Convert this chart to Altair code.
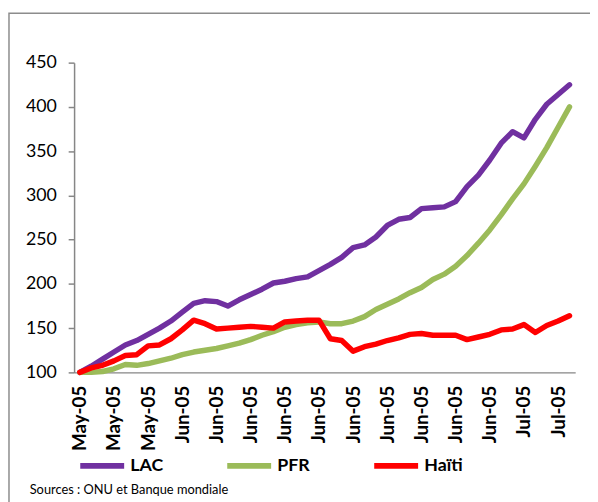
import altair as alt
import pandas as pd

# ---- data ----
series_names = ["LAC", "PFR", "Haïti"]
series_colors = ["#7030A0", "#9BBB59", "#FF0000"]

lac = [100, 107, 115, 123, 131, 136, 143, 150, 158, 168, 178, 181, 180, 175, 182,
       188, 194, 201, 203, 206, 208, 215, 222, 230, 241, 244, 253, 266, 273, 275,
       285, 286, 287, 293, 310, 323, 340, 359, 372, 365, 386, 403, 414, 425]
pfr = [100, 100, 101, 104, 109, 108, 110, 113, 116, 120, 123, 125, 127, 130, 133,
       137, 142, 146, 151, 154, 156, 157, 155, 155, 158, 163, 171, 177, 183, 190,
       196, 205, 211, 220, 232, 246, 261, 278, 296, 313, 333, 354, 377, 400]
haiti = [100, 105, 108, 113, 119, 120, 130, 131, 138, 148, 159, 155, 149, 150, 151,
         152, 151, 150, 157, 158, 159, 159, 138, 136, 124, 129, 132, 136, 139, 143,
         144, 142, 142, 142, 137, 140, 143, 148, 149, 154, 145, 153, 158, 164]

tick_labels = ["May-05"] * 3 + ["Jun-05"] * 10 + ["Jul-05"] * 2
y_ticks = [100, 150, 200, 250, 300, 350, 400, 450]
source_text = "Sources : ONU et Banque mondiale"

rows = []
for name, vals in zip(series_names, [lac, pfr, haiti]):
    for i, v in enumerate(vals):
        rows.append({"i": i, "serie": name, "v": v})
df = pd.DataFrame(rows)

FONT = "Lato"
GRAY = "#868686"
n = len(lac)
tick_pos = list(range(0, n, 3))[: len(tick_labels)]
label_array = "[" + ",".join("'" + t + "'" for t in tick_labels) + "]"

x_enc = alt.X(
    "i:Q",
    scale=alt.Scale(domain=[-0.5, n - 0.5], nice=False, zero=False),
    axis=alt.Axis(
        values=tick_pos,
        labelExpr=label_array + "[round(datum.value / 3)]",
        labelAngle=270,
        labelAlign="right",
        labelBaseline="middle",
        ticks=False,
        grid=False,
        domainColor=GRAY,
        domainWidth=1.5,
        labelFont=FONT,
        labelFontSize=19,
        labelFontWeight="bold",
        labelColor="black",
        labelPadding=13,
        labelOverlap=False,
        title=None,
    ),
)
y_enc = alt.Y(
    "v:Q",
    scale=alt.Scale(domain=[100, 450], nice=False, zero=False),
    axis=alt.Axis(
        values=y_ticks,
        grid=False,
        tickSize=6,
        tickColor=GRAY,
        tickWidth=1.5,
        domainColor=GRAY,
        domainWidth=1.5,
        labelFont=FONT,
        labelFontSize=18,
        labelColor="black",
        labelPadding=12,
        title=None,
    ),
)
color_enc = alt.Color(
    "serie:N",
    scale=alt.Scale(domain=series_names, range=series_colors),
    legend=alt.Legend(
        orient="none",
        legendX=3,
        legendY=383,
        direction="horizontal",
        title=None,
        symbolType="stroke",
        symbolSize=1980,
        symbolStrokeWidth=6,
        labelFont=FONT,
        labelFontSize=18,
        labelFontWeight="bold",
        labelColor="black",
        labelOffset=3,
        columnPadding=47,
        gridAlign="all",
        padding=0,
    ),
)

layers = []
for name in series_names:
    layers.append(
        alt.Chart(df)
        .transform_filter(alt.datum.serie == name)
        .mark_line(strokeWidth=5.5, strokeCap="round", strokeJoin="round")
        .encode(x=x_enc, y=y_enc, color=color_enc)
    )

one = pd.DataFrame({"a": [0]})
border = alt.Chart(one).mark_rect(filled=False, stroke="#8C8C8C", strokeWidth=1.5).encode(
    x=alt.value(-66), x2=alt.value(800), y=alt.value(-50), y2=alt.value(700)
)
source = alt.Chart(one).mark_text(
    align="left", baseline="middle", font=FONT, fontSize=13, color="black"
).encode(x=alt.value(-45), y=alt.value(433), text=alt.value(source_text))

chart = (
    alt.layer(border, *layers, source)
    .properties(
        width=508,
        height=314,
        padding={"left": 67, "top": 52, "right": 15, "bottom": 128},
        autosize=alt.AutoSizeParams(type="none"),
    )
    .configure_view(stroke=None)
)

chart.save("out.html", embed_options={"renderer": "svg", "actions": False})
